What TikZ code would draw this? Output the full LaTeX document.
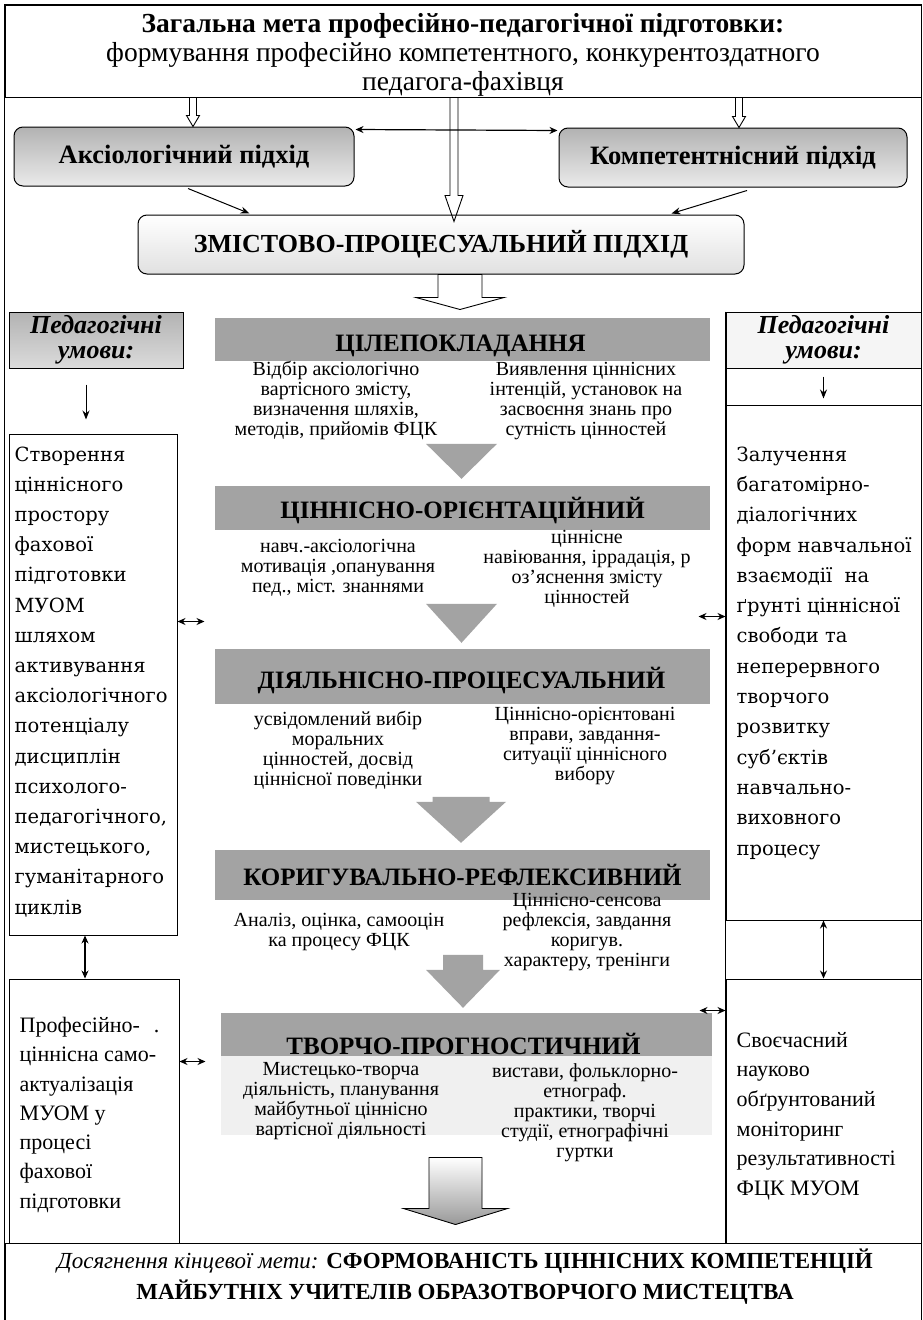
\documentclass[tikz,border=0pt]{standalone}
\usepackage{fontspec}
\setmainfont{Liberation Serif}
\newfontfamily\sideserif{DejaVu Serif}
\usetikzlibrary{calc,arrows.meta}
\newcommand\setfs[2]{\fontsize{#1}{#2}\selectfont}
% hollow (open) down arrow from #1 to #2
\newcommand\hollowdown[6]{%
  \draw[#6] ($(#1)+(-#3,0)$) -- ($(#2)+(-#3,-#5)$) -- ($(#2)+(-#4,-#5)$) -- (#2)
    -- ($(#2)+(#4,-#5)$) -- ($(#2)+(#3,-#5)$) -- ($(#1)+(#3,0)$);}
% closed block down arrow from #1 to #2
\newcommand\blockdown[6]{%
  \path[#6] ($(#1)+(-#3,0)$) -- ($(#2)+(-#3,-#5)$) -- ($(#2)+(-#4,-#5)$) -- (#2)
    -- ($(#2)+(#4,-#5)$) -- ($(#2)+(#3,-#5)$) -- ($(#1)+(#3,0)$) -- cycle;}
\tikzset{
 fr/.style={line width=1pt},
 appr/.style={draw, line width=1pt, rounded corners=9pt, top color=black!30, bottom color=black!8,
   minimum height=59pt, inner sep=0pt, font=\setfs{26.5}{28}\bfseries},
 zm/.style={draw, line width=1pt, rounded corners=9pt, top color=white, bottom color=black!12,
   minimum height=59pt, inner sep=0pt, font=\setfs{26}{28}\bfseries},
 bar/.style={fill=black!36, minimum width=495pt, inner sep=0pt},
 bartitle/.style={font=\setfs{25}{27}\bfseries, inner sep=0pt},
 stxt/.style={align=center, font=\setfs{20}{20}, inner sep=0pt},
 pedbox/.style={draw, line width=1pt, minimum height=56pt, inner sep=0pt, align=center,
   font=\setfs{26}{25}\bfseries\itshape},
 sidebox/.style={draw, line width=1pt, inner sep=0pt},
 sidetxt/.style={align=left, inner sep=0pt, anchor=north west},
 arr/.style={-{Stealth[length=9pt,width=7pt]}, line width=1pt},
 dbl/.style={{Stealth[length=8pt,width=7pt]}-{Stealth[length=8pt,width=7pt]}, line width=1.2pt},
 hollow/.style={draw, line width=0.9pt},
 garr/.style={fill=black!36},
}
\begin{document}
\begin{tikzpicture}[x=1pt,y=-1pt]
\useasboundingbox (0,0) rectangle (923,1320);
\fill[white] (0,0) rectangle (923,1320);

% ---------- top goal box ----------
\node[draw, fr, minimum width=916pt, minimum height=92pt, inner sep=0pt, align=center,
      font=\setfs{27.5}{29}] (goal) at (463,51)
  {};
\node[align=center, inner sep=0pt, font=\setfs{27.5}{29}] (goaltxt) at (463,55)
  {{\bfseries Загальна мета професійно-педагогічної підготовки:}\\
   формування професійно компетентного, конкурентоздатного\\
   педагога-фахівця};

% ---------- bottom result box ----------
\node[draw, fr, minimum width=916pt, minimum height=87pt, inner sep=0pt] (result) at (463,1286.5) {};
\node[align=center, inner sep=0pt, anchor=north, font=\setfs{23}{31}] (restxt) at (465,1249)
  {\textit{Досягнення кінцевої мети:} \textbf{СФОРМОВАНІСТЬ ЦІННІСНИХ КОМПЕТЕНЦІЙ}\\
   \textbf{МАЙБУТНІХ УЧИТЕЛІВ ОБРАЗОТВОРЧОГО МИСТЕЦТВА}};

% outer side lines
\draw[fr] (goal.south west) -- (result.north west);
\draw[fr] (goal.south east) -- (result.north east);

% ---------- approaches ----------
\node[appr, minimum width=340pt] (aks) at (184,156.5) {Аксіологічний підхід};
\node[appr, minimum width=348pt] (komp) at (733,157.5) {Компетентнісний підхід};
\node[zm, minimum width=606pt] (zmist) at (441,244.5) {ЗМІСТОВО-ПРОЦЕСУАЛЬНИЙ ПІДХІД};

\path ($(aks.north)+(9,0)$) coordinate (a1e);
\path (goal.south -| a1e) coordinate (a1s);
\hollowdown{a1s}{a1e}{3.5}{6.5}{11}{hollow}
\path ($(komp.north)+(6,0)$) coordinate (a2e);
\path (goal.south -| a2e) coordinate (a2s);
\hollowdown{a2s}{a2e}{3.5}{6.5}{11}{hollow}
\path ($(zmist.north)+(13,7)$) coordinate (a3e);
\path (goal.south -| a3e) coordinate (a3s);
\hollowdown{a3s}{a3e}{4}{9}{26}{hollow}

\draw[dbl] ($(aks.north east)+(1,3)$) -- ($(komp.north west)+(-1,3)$);
\draw[arr] ($(aks.south)+(4,2)$) -- ($(zmist.north west)+(112,-1)$);
\draw[arr] ($(komp.south)+(14,3)$) -- ($(zmist.north east)+(-73,-1)$);

% big hollow arrow below the central box
\path ($(zmist.south)+(19,0)$) coordinate (b0s);
\path ($(b0s)+(0,35)$) coordinate (b0e);
\blockdown{b0s}{b0e}{22}{44}{12}{draw, fill=white, line width=0.9pt}

% ---------- stages ----------
\node[bar, minimum height=43pt] (bar1) at (462.5,339.5) {};
\node[bar, minimum height=44pt] (bar2) at (462.5,508) {};
\node[bar, minimum height=55pt] (bar3) at (462.5,676.5) {};
\node[bar, minimum height=50pt] (bar4) at (462.5,875) {};
\node[fill=black!6, minimum width=491pt, minimum height=79pt, inner sep=0pt] (bar5bg) at (466.5,1095.5) {};
\node[bar, minimum width=491pt, minimum height=43pt] (bar5) at (466.5,1034.5) {};

\node[bartitle] (tt1) at ($(bar1.center)+(-2,6)$) {ЦІЛЕПОКЛАДАННЯ};
\node[bartitle] (tt2) at ($(bar2.center)+(0,3)$) {ЦІННІСНО-ОРІЄНТАЦІЙНИЙ};
\node[bartitle] (tt3) at ($(bar3.center)+(-1,4.5)$) {ДІЯЛЬНІСНО-ПРОЦЕСУАЛЬНИЙ};
\node[bartitle] (tt4) at ($(bar4.center)+(0,0)$) {КОРИГУВАЛЬНО-РЕФЛЕКСИВНИЙ};
\node[bartitle] (tt5) at ($(bar5.center)+(-3,9)$) {ТВОРЧО-ПРОГНОСТИЧНИЙ};

\node[stxt] (s1l) at (336,400.5) {Відбір аксіологічно\\вартісного змісту,\\визначення шляхів,\\методів, прийомів ФЦК};
\node[stxt] (s1r) at (586,401.5) {Виявлення ціннісних\\інтенцій, установок на\\засвоєння знань про\\сутність цінностей};
\node[stxt] (s2l) at (338,568) {навч.-аксіологічна\\мотивація ,опанування\\пед., міст. знаннями};
\node[stxt] (s2r) at (587,568.5) {ціннісне\\навіювання, іррадація, р\\оз'яснення змісту\\цінностей};
\node[stxt] (s3l) at (338,750) {усвідомлений вибір\\моральних\\цінностей, досвід\\ціннісної поведінки};
\node[stxt] (s3r) at (585,746.5) {Ціннісно-орієнтовані\\вправи, завдання-\\ситуації ціннісного\\вибору};
\node[stxt] (s4l) at (339,932) {Аналіз, оцінка, самооцін\\ка процесу ФЦК};
\node[stxt] (s4r) at (587,932) {Ціннісно-сенсова\\рефлексія, завдання\\коригув.\\характеру, тренінги};
\node[stxt] (s5l) at (341,1101.5) {Мистецько-творча\\діяльність, планування\\майбутньої ціннісно\\вартісної діяльності};
\node[stxt] (s5r) at (585,1112.5) {вистави, фольклорно-\\етнограф.\\практики, творчі\\студії, етнографічні\\гуртки};

% gray arrows between stages
\path ($(bar2.north)+(-1,-7)$) coordinate (g1e);
\path ($(g1e)+(0,-35)$) coordinate (g1s);
\blockdown{g1s}{g1e}{35.5}{35.5}{35}{garr}
\path ($(bar3.north)+(-1,-6)$) coordinate (g2e);
\path ($(g2e)+(0,-39)$) coordinate (g2s);
\blockdown{g2s}{g2e}{35.5}{35.5}{39}{garr}
\path ($(bar4.north)+(-1.5,-7)$) coordinate (g3e);
\path ($(g3e)+(0,-46)$) coordinate (g3s);
\blockdown{g3s}{g3e}{28.5}{45}{41}{garr}
\path ($(bar5.north)+(-3.5,-5)$) coordinate (g4e);
\path ($(g4e)+(0,-53)$) coordinate (g4s);
\blockdown{g4s}{g4e}{20}{37}{38}{garr}
\path ($(result.north)+(-7.5,-18)$) coordinate (g5e);
\path ($(g5e)+(0,-67)$) coordinate (g5s);
\blockdown{g5s}{g5e}{26.5}{52}{16}{draw, line width=0.9pt, top color=white, bottom color=black!40}

% ---------- left column ----------
\node[pedbox, minimum width=174pt, top color=black!30, bottom color=black!14] (lped) at (96,340) {Педагогічні\\умови:};
\node[sidebox, minimum width=168pt, minimum height=501pt] (lbox) at (93,684.5) {};
\node[sidetxt, font=\sideserif\setfs{19.5}{30.2}] (ltxt) at ($(lbox.north west)+(6,13)$)
  {Створення\\ціннісного\\простору\\фахової\\підготовки\\МУОМ\\шляхом\\активування\\аксіологічного\\потенціалу\\дисциплін\\психолого-\\педагогічного,\\мистецького,\\гуманітарного\\циклів};
\node[sidebox, minimum width=170pt, minimum height=264pt] (llbox) at (94,1111) {};
\node[sidetxt, font=\setfs{22}{29.3}] (lltxt) at ($(llbox.north west)+(11,38.5)$)
  {Професійно-\hspace{14pt}.\\ціннісна само-\\актуалізація\\МУОМ у\\процесі\\фахової\\підготовки};

\draw[arr] ($(lped.south)+(-10,16)$) -- ($(lbox.north)+(-7,-14)$);
\draw[dbl] ($(lbox.south)+(-8,0)$) -- ($(llbox.north)+(-9,0)$);
\path ($(lbox.north east)+(0,188)$) coordinate (h1s);
\path ($(h1s)+(27,0)$) coordinate (h1e);
\draw[dbl] (h1s) -- (h1e);
\path ($(llbox.north east)+(0,83)$) coordinate (h3s);
\path ($(h3s)+(26,0)$) coordinate (h3e);
\draw[dbl] (h3s) -- (h3e);

% ---------- right column ----------
\node[pedbox, minimum width=195pt, fill=black!4] (rped) at (823.5,340) {Педагогічні\\умови:};
\node[sidebox, minimum width=195pt, minimum height=37pt] (rcell) at (823.5,386.5) {};
\node[sidebox, minimum width=195pt, minimum height=515pt] (rbox) at (823.5,662.5) {};
\node[sidetxt, font=\sideserif\setfs{19.5}{30.3}] (rtxt) at ($(rbox.north west)+(11,42)$)
  {Залучення\\багатомірно-\\діалогічних\\форм навчальної\\взаємодії \ на\\ґрунті ціннісної\\свободи та\\неперервного\\творчого\\розвитку\\суб’єктів\\навчально-\\виховного\\процесу};
\node[sidebox, minimum width=195pt, minimum height=264pt] (lrbox) at (823.5,1111) {};
\node[sidetxt, font=\setfs{22}{29.6}] (lrtxt) at ($(lrbox.north west)+(11,53.5)$)
  {Своєчасний\\науково\\обґрунтований\\моніторинг\\результативності\\ФЦК МУОМ};
\draw[fr] (rped.north west) -- (lrbox.south west);

\draw[arr] ($(rped.south)+(0,8)$) -- ($(rbox.north)+(0,-6)$);
\draw[dbl] (rbox.south) -- (lrbox.north);
\path ($(rbox.north west)+(0,212)$) coordinate (h2e);
\path ($(h2e)+(-27,0)$) coordinate (h2s);
\draw[dbl] (h2s) -- (h2e);
\path ($(lrbox.north west)+(0,32)$) coordinate (h4e);
\path ($(h4e)+(-26,0)$) coordinate (h4s);
\draw[dbl] (h4s) -- (h4e);

% outer frame on top
\draw[fr] (goal.north west) rectangle (result.south east);
\end{tikzpicture}
\end{document}
